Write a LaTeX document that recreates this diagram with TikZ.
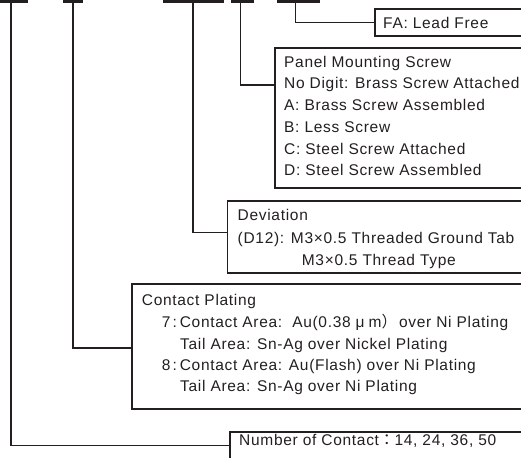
\documentclass[tikz,border=0pt]{standalone}
\usepackage{fontspec}
\setmainfont{Liberation Sans}[LetterSpace=4.5]
\newfontfamily\cjk{Noto Sans CJK JP}
\definecolor{ink}{RGB}{35,31,32}
\tikzset{
  bar/.style={fill=ink, draw=none, inner sep=0pt, outer sep=0pt, minimum height=2.7pt, anchor=north west},
  box/.style={draw=ink, line width=1.3pt, inner sep=0pt, outer sep=0pt, minimum width=400pt, anchor=north west},
  conn/.style={draw=ink, line width=1.3pt},
  txt/.style={inner sep=0pt, anchor=base west, text=ink, font=\fontsize{15.5}{21.7}\selectfont}
}
\begin{document}
\begin{tikzpicture}[x=1pt,y=-1pt]
\useasboundingbox (0,0) rectangle (521,457);
\clip (0,0) rectangle (521,457);
% code bars
\node[bar, minimum width=28pt] (b1) at (0,0) {};
\node[bar, minimum width=20pt] (b2) at (63,0) {};
\node[bar, minimum width=61pt] (b3) at (163,0) {};
\node[bar, minimum width=23pt] (b4) at (230.5,0) {};
\node[bar, minimum width=43pt] (b5) at (277,0) {};
% boxes
\node[box, minimum height=27pt] (fa) at (375,9) {};
\node[box, minimum height=140pt] (pm) at (275,48) {};
\node[box, minimum height=72pt] (dev) at (227.5,201) {};
\node[box, minimum height=125pt] (cp) at (132,284) {};
\node[box, minimum height=40pt] (num) at (230,432) {};
% texts
\node[txt] (t1) at (383,29) {FA: Lead Free};
\node[txt] (p1) at (284,67.3) {Panel Mounting Screw};
\node[txt] (p2) at (284,89) {No Digit: Brass Screw Attached};
\node[txt] (p3) at (284,110.7) {A: Brass Screw Assembled};
\node[txt] (p4) at (284,132.4) {B: Less Screw};
\node[txt] (p5) at (284,154.1) {C: Steel Screw Attached};
\node[txt] (p6) at (284,175.8) {D: Steel Screw Assembled};
\node[txt] (d1) at (237.5,220) {Deviation};
\node[txt] (d2) at (237.5,243) {(D12): M3×0.5 Threaded Ground Tab};
\node[txt] (d3) at (301.7,265) {M3×0.5 Thread Type};
\node[txt] (c1) at (141.7,305.7) {Contact Plating};
\node[txt] (c2) at (161.7,327.7) {7\hspace{2pt}:\hspace{3pt}Contact Area:\ \ Au(0.38\hspace{5pt}μ\hspace{4pt}m{\cjk ）}\hspace{2pt}over Ni Plating};
\node[txt] (c3) at (180,349) {Tail Area: Sn-Ag over Nickel Plating};
\node[txt] (c4) at (161.7,370.7) {8\hspace{2pt}:\hspace{3pt}Contact Area: Au(Flash) over Ni Plating};
\node[txt] (c5) at (180,391.7) {Tail Area: Sn-Ag over Ni Plating};
\node[txt] (n1) at (239,445) {Number of Contact{\cjk ：}14, 24, 36, 50};
% connectors
\draw[conn] ([xshift=11pt]b1.south west) |- ([yshift=-13.3pt]num.north west);
\draw[conn] (b2.south) |- ([yshift=-64pt]cp.north west);
\draw[conn] ([xshift=30pt]b3.south west) |- ([yshift=-31.5pt]dev.north west);
\draw[conn] ([xshift=10.2pt]b4.south west) |- ([yshift=-37pt]pm.north west);
\draw[conn] ([xshift=18.7pt]b5.south west) |- (fa.west);
\end{tikzpicture}
\end{document}
